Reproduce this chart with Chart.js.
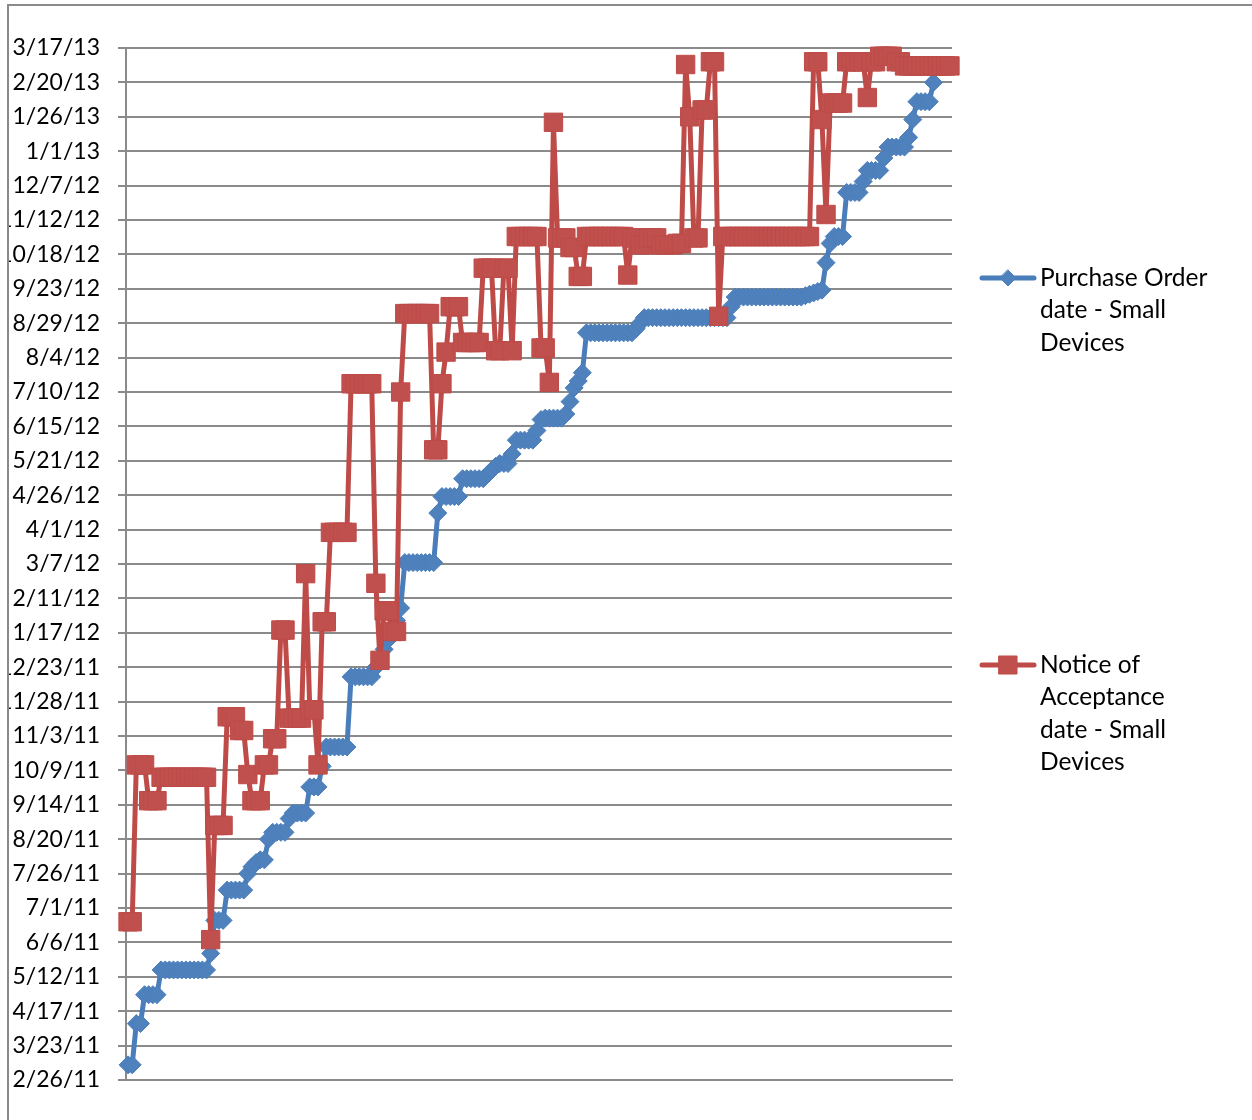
<!DOCTYPE html>
<html>
<head>
<meta charset="utf-8">
<script src="https://cdn.jsdelivr.net/npm/chart.js@4/dist/chart.umd.min.js"></script>
<style>
  html, body { margin: 0; padding: 0; background: #fff; }
  canvas { display: block; }
</style>
</head>
<body>
<canvas id="chart" width="1252" height="1120"></canvas>
<script>
// Dates are stored as spreadsheet serial day numbers (40600 = 2/26/11).
const purchaseOrderDates = [
  40611, 40611, 40641, 40641, 40662, 40662, 40662, 40662, 40680, 40680,
  40680, 40680, 40680, 40680, 40680, 40680, 40680, 40680, 40680, 40680,
  40692, 40716, 40716, 40716, 40738, 40738, 40738, 40738, 40738, 40750,
  40755, 40758, 40760, 40760, 40775, 40780, 40780, 40780, 40780, 40790,
  40794, 40794, 40794, 40794, 40813, 40813, 40813, 40828, 40842, 40842,
  40842, 40842, 40842, 40842, 40893, 40893, 40893, 40893, 40893, 40893,
  40900, 40907, 40913, 40920, 40927, 40934, 40943, 40976, 40976, 40976,
  40976, 40976, 40976, 40976, 40976, 41012, 41024, 41024, 41024, 41024,
  41024, 41037, 41037, 41037, 41037, 41037, 41037, 41040, 41043, 41046,
  41048, 41048, 41048, 41055, 41065, 41065, 41065, 41065, 41065, 41072,
  41080, 41081, 41081, 41081, 41081, 41081, 41084, 41093, 41103, 41108,
  41114, 41143, 41143, 41143, 41143, 41143, 41143, 41143, 41143, 41143,
  41143, 41143, 41143, 41146, 41150, 41154, 41154, 41154, 41154, 41154,
  41154, 41154, 41154, 41154, 41154, 41154, 41154, 41154, 41154, 41154,
  41154, 41154, 41154, 41154, 41154, 41154, 41162, 41169, 41169, 41169,
  41169, 41169, 41169, 41169, 41169, 41169, 41169, 41169, 41169, 41169,
  41169, 41169, 41169, 41169, 41170, 41171, 41172, 41173, 41174, 41194,
  41208, 41213, 41213, 41213, 41245, 41245, 41245, 41245, 41253, 41261,
  41261, 41261, 41261, 41270, 41278, 41278, 41278, 41278, 41278, 41285,
  41298, 41311, 41311, 41311, 41311, 41325, null, null, null, null
];

const acceptanceDates = [
  40715, 40715, 40829, 40829, 40829, 40803, 40803, 40803, 40820, 40820,
  40820, 40820, 40820, 40820, 40820, 40820, 40820, 40820, 40820, 40820,
  40702, 40785, 40785, 40785, 40864, 40864, 40864, 40854, 40854, 40822,
  40803, 40803, 40803, 40829, 40829, 40848, 40848, 40927, 40927, 40863,
  40863, 40863, 40863, 40968, 40869, 40869, 40829, 40933, 40933, 40998,
  40998, 40998, 40998, 40998, 41106, 41106, 41106, 41106, 41106, 41106,
  40961, 40905, 40941, 40941, 40926, 40926, 41100, 41157, 41157, 41157,
  41157, 41157, 41157, 41157, 41058, 41058, 41106, 41129, 41162, 41162,
  41162, 41136, 41136, 41136, 41136, 41136, 41190, 41190, 41190, 41130,
  41130, 41190, 41190, 41130, 41213, 41213, 41213, 41213, 41213, 41213,
  41132, 41132, 41107, 41296, 41212, 41212, 41212, 41205, 41205, 41184,
  41184, 41213, 41213, 41213, 41213, 41213, 41213, 41213, 41213, 41213,
  41213, 41185, 41212, 41212, 41207, 41207, 41212, 41212, 41212, 41207,
  41207, 41207, 41207, 41208, 41208, 41338, 41300, 41212, 41212, 41305,
  41305, 41340, 41340, 41155, 41213, 41213, 41213, 41213, 41213, 41213,
  41213, 41213, 41213, 41213, 41213, 41213, 41213, 41213, 41213, 41213,
  41213, 41213, 41213, 41213, 41213, 41213, 41340, 41340, 41298, 41229,
  41310, 41310, 41310, 41310, 41340, 41340, 41340, 41340, 41340, 41314,
  41340, 41340, 41344, 41344, 41344, 41344, 41340, 41340, 41337, 41337,
  41337, 41337, 41337, 41337, 41337, 41337, 41337, 41337, 41337, 41337
];

const seriesNames = [
  'Purchase Order date - Small Devices',
  'Notice of Acceptance date - Small Devices'
];
// Legend text, broken into the lines it is printed on
const legendLines = [
  ['Purchase Order', 'date - Small', 'Devices'],
  ['Notice of', 'Acceptance', 'date - Small', 'Devices']
];

const axisMin = 40600;   // 2/26/11
const axisMax = 41350;   // 3/17/13
const axisStep = 25;     // days between gridlines

const orders = purchaseOrderDates.map((_, i) => 'Order ' + (i + 1));

const gridColor = '#8a8a8a';
const fontFamily = 'Lato, "Open Sans", sans-serif';

function serialToLabel(serial) {
  const d = new Date(Date.UTC(1899, 11, 30) + serial * 86400000);
  return (d.getUTCMonth() + 1) + '/' + d.getUTCDate() + '/' + String(d.getUTCFullYear()).slice(2);
}

// Outer frame of the chart area and the two-entry legend on the right.
const frameAndLegend = {
  id: 'frameAndLegend',
  afterDraw(chart) {
    const ctx = chart.ctx;
    ctx.save();
    // labels are cut off by the frame edge
    ctx.fillStyle = '#fff';
    ctx.fillRect(0, 0, 9, chart.height);
    ctx.strokeStyle = gridColor;
    ctx.lineWidth = 2;
    ctx.beginPath();
    ctx.moveTo(8, chart.height);
    ctx.lineTo(8, 5);
    ctx.lineTo(chart.width, 5);
    ctx.stroke();

    const tops = [278, 665];
    const lineGap = 32.5;
    chart.data.datasets.forEach((ds, i) => {
      const y = tops[i];
      ctx.strokeStyle = ds.borderColor;
      ctx.lineWidth = 5;
      ctx.lineCap = 'round';
      ctx.beginPath();
      ctx.moveTo(982, y);
      ctx.lineTo(1034, y);
      ctx.stroke();
      ctx.fillStyle = ds.pointBackgroundColor;
      ctx.strokeStyle = ds.pointBorderColor;
      ctx.lineWidth = 1;
      ctx.beginPath();
      if (ds.pointStyle === 'rectRot') {
        ctx.moveTo(1008, y - 8);
        ctx.lineTo(1016, y);
        ctx.lineTo(1008, y + 8);
        ctx.lineTo(1000, y);
        ctx.closePath();
      } else {
        ctx.rect(999, y - 9, 18, 18);
      }
      ctx.fill();
      ctx.stroke();
      ctx.fillStyle = '#000';
      ctx.font = '24.5px ' + fontFamily;
      ctx.textAlign = 'left';
      ctx.textBaseline = 'middle';
      legendLines[i].forEach((t, k) => ctx.fillText(t, 1040, y + k * lineGap));
    });
    ctx.restore();
  }
};

new Chart(document.getElementById('chart'), {
  type: 'line',
  data: {
    labels: orders,
    datasets: [
      {
        label: seriesNames[0],
        data: purchaseOrderDates,
        borderColor: '#4a7ebb',
        backgroundColor: '#4f81bd',
        borderWidth: 5,
        borderJoinStyle: 'round',
        borderCapStyle: 'round',
        pointStyle: 'rectRot',
        pointRadius: 9,
        pointBackgroundColor: '#4f81bd',
        pointBorderColor: '#4a7ebb',
        pointBorderWidth: 1,
        tension: 0,
        clip: false,
        order: 1
      },
      {
        label: seriesNames[1],
        data: acceptanceDates,
        borderColor: '#be4b48',
        backgroundColor: '#c0504d',
        borderWidth: 5,
        borderJoinStyle: 'round',
        borderCapStyle: 'round',
        pointStyle: 'rect',
        pointRadius: 13,
        pointBackgroundColor: '#c0504d',
        pointBorderColor: '#be4b48',
        pointBorderWidth: 1,
        tension: 0,
        clip: false,
        order: 0
      }
    ]
  },
  options: {
    responsive: false,
    animation: false,
    devicePixelRatio: 1,
    layout: { padding: { left: 0, top: 48, right: 300, bottom: 40 } },
    plugins: {
      legend: { display: false },
      tooltip: { enabled: false }
    },
    scales: {
      x: {
        type: 'category',
        offset: true,
        grid: { display: false, drawTicks: false },
        ticks: { display: false },
        border: { display: true, color: gridColor, width: 2 },
        afterFit: (scale) => { scale.height = 0; }
      },
      y: {
        min: axisMin,
        max: axisMax,
        ticks: {
          stepSize: axisStep,
          autoSkip: false,
          color: '#000',
          padding: 18,
          font: { family: fontFamily, size: 23 },
          callback: (v) => serialToLabel(v)
        },
        grid: { color: gridColor, lineWidth: 2, tickLength: 8 },
        border: { color: gridColor, width: 2 },
        afterFit: (scale) => { scale.width = 126; }
      }
    }
  },
  plugins: [frameAndLegend]
});
</script>
</body>
</html>
